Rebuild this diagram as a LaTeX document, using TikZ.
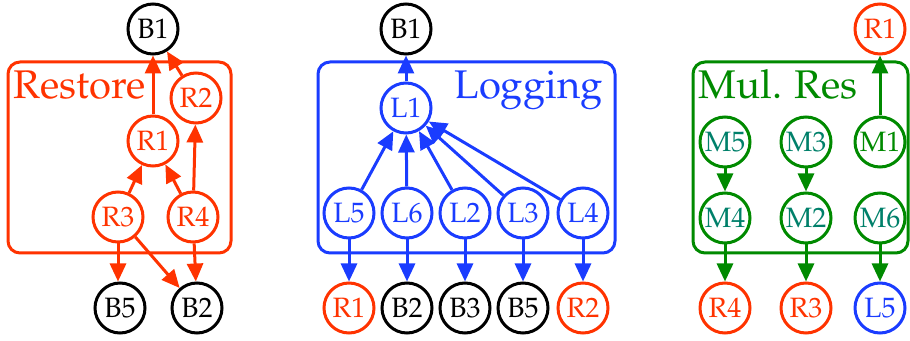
\documentclass[tikz,border=0pt]{standalone}
\usepackage[T1]{fontenc}
\usepackage{mathpazo}
\definecolor{restorered}{HTML}{FF3300}
\definecolor{logblue}{HTML}{1A3CFF}
\definecolor{mulgreen}{HTML}{008A00}
\definecolor{multeal}{HTML}{00806A}
\usetikzlibrary{arrows.meta, positioning}
\tikzstyle{statenode} = [
  circle, minimum size=25pt, inner sep=0pt,
  line width=1.5pt, font=\fontsize{14}{16}\selectfont
]
\tikzstyle{basenode} = [statenode, draw=black, text=black]
\tikzstyle{restorenode} = [statenode, draw=restorered, text=restorered]
\tikzstyle{lognode} = [statenode, draw=logblue, text=logblue]
\tikzstyle{mulnode} = [statenode, draw=mulgreen, text=multeal]
\tikzstyle{groupbox} = [rounded corners=6pt, line width=1.5pt]
\tikzstyle{grouplabel} = [inner sep=0pt, font=\fontsize{20}{24}\selectfont]
\tikzstyle{deparrow} = [
  -{Triangle[length=9pt,width=8pt]}, line width=1.5pt
]

\begin{document}
\begin{tikzpicture}[x=0.5pt, y=-0.5pt, on grid]
  \useasboundingbox (0,0) rectangle (910,341);

  % Restore
  \draw[groupbox, restorered] (8,62) rectangle (231,253);
  \node[grouplabel, text=restorered, anchor=base west] (restorelabel)
    at (13,99) {Restore};

  \node[basenode] (rb1) at (153,29) {B1};
  \node[restorenode, below=56pt of rb1] (r1) {R1};
  \node[restorenode] (r2) at (196,98) {R2};
  \node[restorenode, below left=38pt and 17.5pt of r1] (r3) {R3};
  \node[restorenode, below right=38pt and 20pt of r1] (r4) {R4};
  \node[basenode] (rb5) at (120,308) {B5};
  \node[basenode] (rb2) at (197,308) {B2};

  \draw[deparrow, restorered] (r1) -- (rb1);
  \draw[deparrow, restorered] (r2) -- (rb1);
  \draw[deparrow, restorered] (r3) -- (r1);
  \draw[deparrow, restorered] (r4) -- (r1);
  \draw[deparrow, restorered] (r4) -- (r2);
  \draw[deparrow, restorered] (r3.south) -- (r3.south |- rb5.north);
  \draw[deparrow, restorered] (r3) -- (rb2);
  \draw[deparrow, restorered] (r4) -- (rb2);

  % Logging
  \draw[groupbox, logblue] (318,62) rectangle (615,253);
  \node[grouplabel, text=logblue, anchor=base east] (loglabel)
    at (603,99) {Logging};

  \node[basenode] (lb1) at (406,29) {B1};
  \node[lognode] (l1) at (406,108) {L1};
  \node[lognode] (l5) at (349,213) {L5};
  \node[lognode, right=29pt of l5] (l6) {L6};
  \node[lognode, right=29pt of l6] (l2) {L2};
  \node[lognode, right=29pt of l2] (l3) {L3};
  \node[lognode, right=30pt of l3] (l4) {L4};

  \node[restorenode, below=47.5pt of l5] (lr1) {R1};
  \node[basenode, below=47.5pt of l6] (lb2) {B2};
  \node[basenode, below=47.5pt of l2] (lb3) {B3};
  \node[basenode, below=47.5pt of l3] (lb5) {B5};
  \node[restorenode, below=47.5pt of l4] (lr2) {R2};

  \draw[deparrow, logblue] (l1) -- (lb1);
  \foreach \src in {l5, l6, l2, l3, l4}
    \draw[deparrow, logblue] (\src) -- (l1);
  \draw[deparrow, logblue] (l5) -- (lr1);
  \draw[deparrow, logblue] (l6) -- (lb2);
  \draw[deparrow, logblue] (l2) -- (lb3);
  \draw[deparrow, logblue] (l3) -- (lb5);
  \draw[deparrow, logblue] (l4) -- (lr2);

  % Mul. Res
  \draw[groupbox, mulgreen] (693,62) rectangle (908,253);
  \node[grouplabel, text=mulgreen, anchor=base west] (mullabel)
    at (698,99) {Mul. Res};

  \node[restorenode] (mr1) at (880,29) {R1};
  \node[mulnode, text=mulgreen, below=56.5pt of mr1] (m1) {M1};
  \node[mulnode, left=37pt of m1] (m3) {M3};
  \node[mulnode, left=40.5pt of m3] (m5) {M5};
  \node[mulnode, below=38pt of m5] (m4) {M4};
  \node[mulnode, below=38pt of m3] (m2) {M2};
  \node[mulnode, below=38pt of m1] (m6) {M6};

  \node[restorenode, below=45pt of m4] (mr4) {R4};
  \node[restorenode, below=45pt of m2] (mr3) {R3};
  \node[lognode, below=45pt of m6] (ml5) {L5};

  \draw[deparrow, mulgreen] (m1) -- (mr1);
  \draw[deparrow, mulgreen] (m5) -- (m4);
  \draw[deparrow, mulgreen] (m3) -- (m2);
  \draw[deparrow, mulgreen] (m4) -- (mr4);
  \draw[deparrow, mulgreen] (m2) -- (mr3);
  \draw[deparrow, mulgreen] (m6) -- (ml5);
\end{tikzpicture}
\end{document}
